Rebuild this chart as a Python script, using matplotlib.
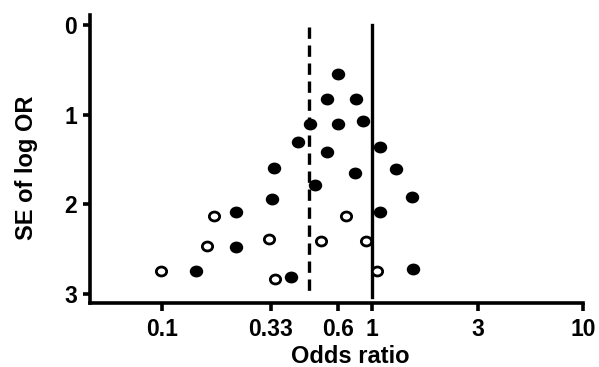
import numpy as np
import matplotlib
matplotlib.use("Agg")
import matplotlib.pyplot as plt
from matplotlib.path import Path
from matplotlib.transforms import Affine2D

plt.rcParams['font.family'] = ['Liberation Sans', 'DejaVu Sans']
plt.rcParams['font.weight'] = 'bold'

# studies shown as filled circles: odds ratio and SE of log OR
filled_or = [0.69, 0.61, 0.835, 0.505, 0.69, 0.90, 0.444, 1.086, 0.612, 0.34, 1.30,
             0.826, 0.537, 0.332, 1.55, 1.086, 1.56, 0.409, 0.224, 0.226, 0.146]
filled_se = [0.55, 0.82, 0.82, 1.10, 1.10, 1.07, 1.31, 1.36, 1.42, 1.59, 1.60,
             1.65, 1.78, 1.94, 1.92, 2.09, 2.72, 2.81, 2.09, 2.47, 2.74]

# imputed studies (open circles)
open_or = [0.746, 0.323, 0.569, 0.938, 1.058, 0.344, 0.177, 0.163, 0.0996]
open_se = [2.13, 2.39, 2.41, 2.41, 2.74, 2.83, 2.13, 2.46, 2.74]

pooled_or = 0.50
null_or = 1.0

tick_pos = [0.1, 0.33, 0.686, 1, 3.17, 10]
tick_labels = ['0.1', '0.33', '0.6', '1', '3', '10']

# slightly wide circle, the original picture is a bit stretched
oval = Path.unit_circle().transformed(Affine2D().scale(1.15, 1.0))

fig = plt.figure(figsize=(5.99, 3.67), dpi=100)
ax = fig.add_axes([0.150, 0.174, 0.823, 0.785])

ax.plot([pooled_or, pooled_or], [0.02, 3.03], color='black', lw=2.4, ls=(0, (3.4, 2)))
ax.plot([null_or, null_or], [0.0, 3.03], color='black', lw=2.4)

ax.scatter(filled_or, filled_se, s=75, marker=oval, color='black', zorder=3)
ax.scatter(open_or, open_se, s=55, marker=oval, facecolor='white', edgecolor='black',
           linewidths=2.0, zorder=3)

ax.set_xscale('log')
ax.set_xlim(0.0455, 10)
ax.set_ylim(3.1, -0.11)
ax.set_xticks(tick_pos)
ax.set_xticklabels(tick_labels)
ax.xaxis.set_minor_locator(matplotlib.ticker.NullLocator())
ax.set_yticks([0, 1, 2, 3])

for s in ['top', 'right']:
    ax.spines[s].set_visible(False)
for s in ['left', 'bottom']:
    ax.spines[s].set_linewidth(2.6)

ax.tick_params(axis='both', width=2.6, length=5, labelsize=16.5, pad=4)
ax.tick_params(axis='x', length=6, pad=5)

fig.text(350 / 599, 1 - 363 / 367, 'Odds ratio', fontsize=17, fontweight='bold',
         ha='center', va='baseline')
ax.set_ylabel('SE of log OR', fontsize=17, fontweight='bold')
ax.yaxis.set_label_coords(-0.106, 0.47)

fig.savefig('out.png', dpi=100)
